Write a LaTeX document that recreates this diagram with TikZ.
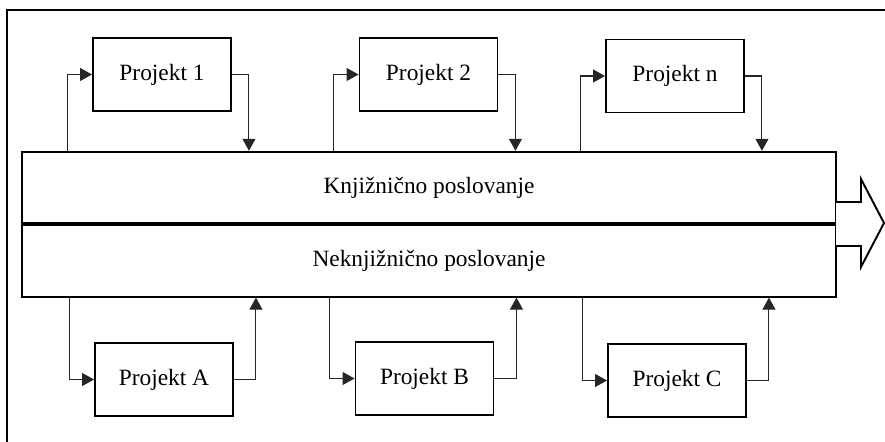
\documentclass[tikz,border=0pt]{standalone}
\usepackage{fontspec}
\setmainfont{Liberation Serif}
\usetikzlibrary{positioning, arrows.meta}

\begin{document}
\begin{tikzpicture}[x=0.02cm, y=-0.02cm,
    font=\fontsize{13.3}{16}\selectfont,
    proj/.style={draw, line width=1.1pt, minimum width=2.76cm,
      minimum height=1.46cm, inner sep=0pt},
    band/.style={draw, line width=1.1pt, minimum width=16.28cm,
      minimum height=1.43cm, inner sep=0pt},
    link/.style={line width=0.6pt, black!85,
      -{Triangle[length=0.24cm, width=0.26cm]}}]
  \useasboundingbox (0,0) rectangle (885,442);

  % frame
  \draw [line width=1.1pt] (7,442) -- (7,10) -- (885,10);

  % business bands
  \node [band] (knj) at (429,187.5) {Knjižnično poslovanje};%
  \node [band, below=0pt of knj] (neknj) {Neknjižnično poslovanje};%

  % output arrow
  \draw [line width=1.1pt, fill=white] (836,202) -- (861,202) -- (861,179)
    -- (884,223) -- (861,267) -- (861,246) -- (836,246);

  % projects on top
  \node [proj] (p1) at (162,74.5) {Projekt 1};%
  \node [proj] (p2) at (428.5,74.5) {Projekt 2};%
  \node [proj] (pn) at (675,76) {Projekt n};%

  % projects below
  \node [proj] (pA) at (164,379.5) {Projekt A};%
  \node [proj] (pB) at (424.5,378.5) {Projekt B};%
  \node [proj] (pC) at (677,380.5) {Projekt C};%

  % arrows
  \foreach \p in {p1,p2,pn} {
    \draw [link] ([xshift=-0.5cm]\p.west |- knj.north) |- (\p.west);%
    \draw [link] (\p.east) -| ([xshift=0.34cm]\p.east |- knj.north);%
  }
  \foreach \p in {pA,pB,pC} {
    \draw [link] ([xshift=-0.5cm]\p.west |- neknj.south) |- (\p.west);%
    \draw [link] (\p.east) -| ([xshift=0.44cm]\p.east |- neknj.south);%
  }
\end{tikzpicture}
\end{document}
